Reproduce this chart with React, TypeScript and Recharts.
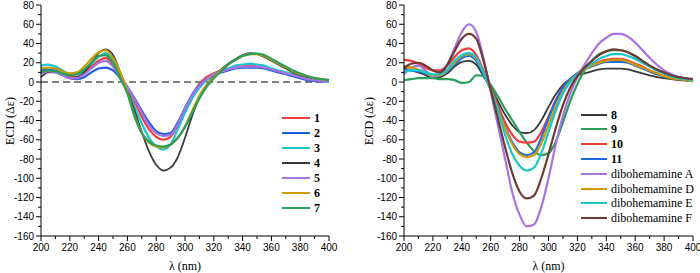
import { Line, LineChart, ReferenceLine, XAxis, YAxis } from "recharts";

// wavelength grid, 5 nm steps
const WL = [
  200, 205, 210, 215, 220, 225, 230, 235, 240, 245, 250, 255, 260, 265, 270, 275, 280, 285, 290, 295,
  300, 305, 310, 315, 320, 325, 330, 335, 340, 345, 350, 355, 360, 365, 370, 375, 380, 385, 390, 395, 400,
];

// left panel: compounds 1-7
const c1 = [11, 12, 11, 8, 5, 5, 9, 16, 22, 25, 18, 6, -6, -20, -36, -49, -57, -60, -57, -45, -29, -14, -2, 5, 9, 12, 14, 16, 17, 17, 16, 15, 13, 11, 9, 7, 5, 3, 2, 1.5, 1];
const c2 = [13, 13, 12, 8, 4, 3, 5, 10, 14, 15, 12, 4, -5, -17, -30, -42, -51, -54, -53, -42, -27, -13, -3, 3, 7, 10, 12, 14, 15, 15, 15, 14, 12, 10, 8, 6, 4, 2, 1, 0.5, 0.5];
const c3 = [17, 18, 16, 12, 8, 8, 12, 19, 26, 30, 22, 8, -8, -26, -43, -58, -67, -70, -65, -49, -32, -17, -6, 2, 7, 11, 14, 17, 18, 19, 18, 17, 14, 12, 10, 8, 6, 4, 3, 2, 2];
const c4 = [5, 10, 10, 7, 4, 5, 10, 20, 30, 34, 28, 10, -8, -30, -52, -72, -86, -92, -89, -78, -58, -35, -16, -3, 6, 13, 19, 24, 28, 30, 29, 26, 22, 18, 14, 10, 7, 5, 3, 2, 2];
const c5 = [9, 11, 10, 7, 4, 4, 8, 14, 20, 22, 16, 5, -5, -18, -32, -45, -53, -56, -55, -44, -28, -14, -4, 3, 8, 11, 13, 15, 16, 16, 16, 15, 13, 11, 9, 7, 5, 3, 2, 1, 1];
const c6 = [14, 15, 14, 11, 9, 10, 16, 24, 31, 33, 25, 10, -10, -35, -53, -63, -67, -68, -65, -58, -46, -30, -14, -3, 5, 12, 18, 23, 27, 29, 29, 27, 23, 19, 15, 11, 8, 6, 4, 3, 2];
const c7 = [10, 12, 11, 9, 7, 8, 13, 20, 27, 28, 20, 4, -12, -36, -53, -62, -66, -67, -65, -58, -47, -32, -17, -5, 4, 11, 18, 23, 27, 29, 29.5, 28, 24, 20, 16, 12, 9, 6, 4, 3, 2];

// right panel: compounds 8-11 and dibohemamines
const c8 = [14, 12, 10, 7, 4, 5, 9, 16, 21, 22, 18, 6, -6, -20, -34, -45, -52, -53, -50, -40, -26, -13, -3, 3, 7, 9, 11, 13, 14, 14, 14, 13, 11, 9, 7, 5, 4, 3, 2, 1.5, 1];
const c9 = [2, 3, 4, 4, 4, 3, 3, 2, -1, 0, 7, 6, -3, -15, -28, -40, -52, -63, -72, -76, -74, -62, -42, -20, -2, 12, 22, 29, 32, 33, 33, 31, 27, 22, 17, 13, 9, 7, 5, 3, 2];
const c10 = [23, 22, 19, 15, 12, 12, 17, 26, 33, 35, 28, 12, -6, -24, -42, -55, -62, -63, -62, -52, -36, -19, -6, 3, 9, 14, 18, 21, 23, 24, 24, 22, 19, 16, 12, 9, 6, 4, 3, 2, 1];
const c11 = [13, 12, 11, 9, 7, 7, 11, 18, 25, 27, 22, 8, -8, -27, -47, -63, -73, -76, -73, -58, -38, -20, -6, 3, 9, 13, 16, 19, 21, 21, 21, 20, 17, 14, 11, 8, 6, 4, 3, 2, 1];
const dA = [8, 15, 17, 12, 6, 8, 18, 35, 52, 60, 52, 25, -10, -45, -80, -115, -138, -150, -148, -130, -100, -65, -35, -12, 5, 18, 30, 40, 46, 50, 50, 47, 41, 33, 25, 18, 12, 8, 5, 3, 2];
const dD = [16, 15, 13, 10, 7, 7, 12, 20, 27, 29, 24, 10, -8, -28, -48, -65, -75, -78, -76, -64, -45, -26, -10, 1, 8, 13, 17, 20, 22, 23, 23, 21, 18, 15, 12, 9, 6, 4, 3, 2, 1];
const dE = [10, 12, 12, 10, 8, 8, 13, 22, 28, 30, 25, 10, -8, -30, -55, -75, -87, -92, -89, -74, -52, -30, -12, 0, 8, 14, 19, 24, 27, 29, 29, 27, 24, 20, 16, 12, 9, 6, 4, 3, 2];
const dF = [15, 19, 20, 17, 12, 10, 18, 32, 45, 50, 45, 22, -8, -38, -68, -95, -114, -121, -118, -100, -75, -48, -24, -6, 6, 15, 22, 28, 32, 34, 33, 31, 27, 22, 17, 13, 10, 7, 5, 4, 3];

const X_TICKS = [200, 210, 220, 230, 240, 250, 260, 270, 280, 290, 300, 310, 320, 330, 340, 350, 360, 370, 380, 390, 400];
const Y_TICKS = [-160, -150, -140, -130, -120, -110, -100, -90, -80, -70, -60, -50, -40, -30, -20, -10, 0, 10, 20, 30, 40, 50, 60, 70, 80];

const LEFT = [
  { key: "1", label: "1", bold: true, color: "#f03c3c", data: c1 },
  { key: "2", label: "2", bold: true, color: "#1f5ee0", data: c2 },
  { key: "3", label: "3", bold: true, color: "#19c6cc", data: c3 },
  { key: "4", label: "4", bold: true, color: "#3a3a3a", data: c4 },
  { key: "5", label: "5", bold: true, color: "#a873e0", data: c5 },
  { key: "6", label: "6", bold: true, color: "#cc9a06", data: c6 },
  { key: "7", label: "7", bold: true, color: "#2a9f5c", data: c7 },
];

const RIGHT = [
  { key: "8", label: "8", bold: true, color: "#3a3a3a", data: c8 },
  { key: "9", label: "9", bold: true, color: "#2a9f5c", data: c9 },
  { key: "10", label: "10", bold: true, color: "#f03c3c", data: c10 },
  { key: "11", label: "11", bold: true, color: "#1f6ae0", data: c11 },
  { key: "A", label: "dibohemamine A", bold: false, color: "#a873e0", data: dA },
  { key: "D", label: "dibohemamine D", bold: false, color: "#cc9a06", data: dD },
  { key: "E", label: "dibohemamine E", bold: false, color: "#19c6cc", data: dE },
  { key: "F", label: "dibohemamine F", bold: false, color: "#6e3b34", data: dF },
];

type Series = { key: string; label: string; bold: boolean; color: string; data: number[] };

const SANS = "'Liberation Sans', Arial, sans-serif";
const SERIF = "'Liberation Serif', 'Times New Roman', serif";

function toRows(series: Series[]) {
  return WL.map((w, i) => {
    const row: Record<string, number> = { wl: w };
    series.forEach((s) => (row[s.key] = s.data[i]));
    return row;
  });
}

const XTick = (props: any) => {
  const { x, y, payload } = props;
  const major = payload.value % 20 === 0;
  return (
    <g>
      <line x1={x} x2={x} y1={y} y2={y + (major ? 5 : 3)} stroke="#000" strokeWidth={1} />
      {major && (
        <text x={x} y={y + 15} textAnchor="middle" style={{ fontSize: 10, fontFamily: SANS }} fill="#000">
          {payload.value}
        </text>
      )}
    </g>
  );
};

const YTick = (props: any) => {
  const { x, y, payload } = props;
  const major = payload.value % 20 === 0;
  return (
    <g>
      <line x1={x - (major ? 5 : 3)} x2={x} y1={y} y2={y} stroke="#000" strokeWidth={1} />
      {major && (
        <text x={x - 7} y={y + 3.5} textAnchor="end" style={{ fontSize: 10, fontFamily: SANS }} fill="#000">
          {payload.value}
        </text>
      )}
    </g>
  );
};

function Panel({ series, yAxisWidth, right, zeroLine }: {
  series: Series[]; yAxisWidth: number; right: number; zeroLine: boolean;
}) {
  const data = toRows(series);
  return (
    <LineChart
      width={350}
      height={273}
      data={data}
      margin={{ top: 5, right, left: 0, bottom: 0 }}
      style={{ overflow: "visible" }}
    >
      <XAxis
        dataKey="wl"
        type="number"
        domain={[200, 400]}
        ticks={X_TICKS}
        interval={0}
        height={37}
        tickSize={0}
        tickMargin={0}
        tick={<XTick />}
        axisLine={{ stroke: "#000", strokeWidth: 1 }}
        tickLine={false}
      />
      <YAxis
        type="number"
        domain={[-160, 80]}
        ticks={Y_TICKS}
        interval={0}
        width={yAxisWidth}
        tickSize={0}
        tickMargin={0}
        tick={<YTick />}
        axisLine={{ stroke: "#000", strokeWidth: 1 }}
        tickLine={false}
      />
      {zeroLine && <ReferenceLine y={0} stroke="#000" strokeWidth={1.2} strokeDasharray="7 4" />}
      {series.map((s) => (
        <Line
          key={s.key}
          dataKey={s.key}
          type="monotone"
          stroke={s.color}
          strokeWidth={s.color === "#3a3a3a" ? 1.8 : 2.2}
          dot={false}
          isAnimationActive={false}
        />
      ))}
    </LineChart>
  );
}

function Titles({ plotCenterX, yTitleX }: { plotCenterX: number; yTitleX: number }) {
  const font = { fontFamily: SERIF, fontSize: 12, lineHeight: "14px", color: "#000", whiteSpace: "nowrap" as const };
  return (
    <>
      <div style={{ ...font, position: "absolute", left: plotCenterX - 50, top: 259, width: 100, textAlign: "center" }}>
        λ (nm)
      </div>
      <div
        style={{
          ...font,
          position: "absolute",
          left: yTitleX - 40,
          top: 120.5 - 7,
          width: 80,
          height: 14,
          textAlign: "center",
          transform: "rotate(-90deg)",
        }}
      >
        ECD (Δε)
      </div>
    </>
  );
}

function LegendBox({ series, left, top, step, lineW }: {
  series: Series[]; left: number; top: number; step: number; lineW: number;
}) {
  return (
    <div style={{ position: "absolute", left, top: 0 }}>
      {series.map((s, i) => (
        <div
          key={s.key}
          style={{
            position: "absolute",
            left: 0,
            top: top + i * step - 8,
            height: 16,
            display: "flex",
            alignItems: "center",
            whiteSpace: "nowrap",
          }}
        >
          <span style={{ display: "inline-block", width: lineW, height: 2, background: s.color }} />
          <span
            style={{
              marginLeft: 4,
              fontFamily: SERIF,
              fontSize: 12,
              fontWeight: s.bold ? "bold" : "normal",
              color: "#000",
              lineHeight: "16px",
            }}
          >
            {s.label}
          </span>
        </div>
      ))}
    </div>
  );
}

export default function App() {
  return (
    <div style={{ position: "absolute", left: 0, top: 0, width: 700, height: 273, background: "#fff", overflow: "hidden" }}>
      <div style={{ position: "absolute", left: 0, top: 0 }}>
        <Panel series={LEFT} yAxisWidth={41} right={21} zeroLine />
      </div>
      <div style={{ position: "absolute", left: 350, top: 0 }}>
        <Panel series={RIGHT} yAxisWidth={54} right={7} zeroLine={false} />
      </div>
      <Titles plotCenterX={185} yTitleX={10} />
      <Titles plotCenterX={548.5} yTitleX={369} />
      <LegendBox series={LEFT} left={282} top={117.5} step={15} lineW={28} />
      <LegendBox series={RIGHT} left={581} top={114.5} step={14.8} lineW={26} />
    </div>
  );
}
